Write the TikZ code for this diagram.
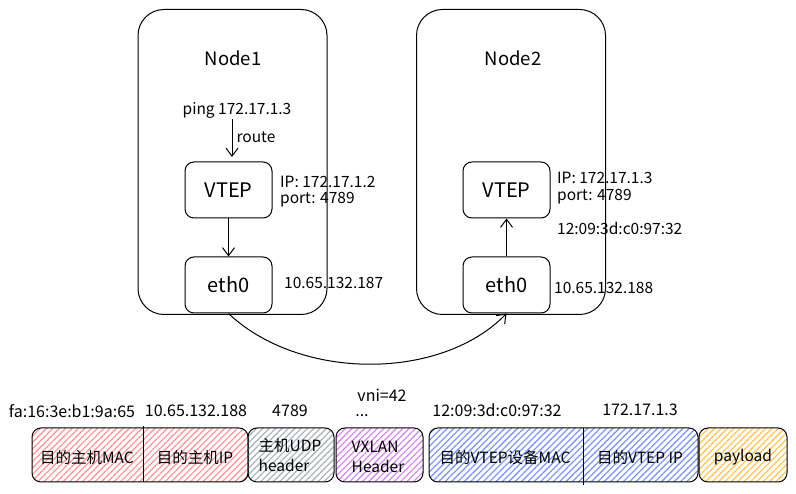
\documentclass[tikz,border=0pt]{standalone}
\usepackage{fontspec}
\setmainfont{Noto Sans CJK SC}
\usetikzlibrary{arrows.meta,patterns.meta}
\definecolor{hred}{HTML}{FF9A9A}
\definecolor{hgray}{HTML}{ADB5BD}
\definecolor{hpurple}{HTML}{D98CF0}
\definecolor{hblue}{HTML}{8098F5}
\definecolor{horange}{HTML}{FFC75A}
\tikzset{
  container/.style={draw, line width=1pt, rounded corners=26pt, minimum width=189pt, minimum height=305pt},
  dev/.style={draw, line width=1pt, rounded corners=9pt, minimum width=87pt, minimum height=56pt, font=\fontsize{20}{22}\selectfont},
  ttl/.style={font=\fontsize{18.5}{21}\selectfont},
  lbl/.style={font=\fontsize{15.5}{18}\selectfont, inner sep=1pt},
  plbl/.style={font=\fontsize{16}{18}\selectfont, inner sep=1pt},
  ptxt/.style={font=\fontsize{15.5}{20}\selectfont, inner sep=1pt, align=left},
  arr/.style={line width=1pt, -{Straight Barb[length=8pt,width=12pt]}},
  field/.style={draw, line width=1pt, rounded corners=9pt, minimum height=54pt,
    pattern={Lines[angle=45,distance=4.5pt,line width=1.3pt]}, pattern color=#1},
}
\begin{document}
\begin{tikzpicture}[x=1pt,y=-1pt]
\useasboundingbox (0,0) rectangle (796,494);
% containers
\node[container] (c1) at (232.5,162) {};
\node[container] (c2) at (511,162) {};
\node[ttl] (t1) at (233,58) {Node1};
\node[ttl] (t2) at (513,58) {Node2};
% node1 devices
\node[dev] (vtep1) at (228.5,190) {VTEP};
\node[dev] (eth1) at (228.5,285) {eth0};
\node[lbl] (ping) at (237,110) {ping 172.17.1.3};
\draw[arr] (ping.south -| 232,0) -- (232,157) node[lbl, midway, right=3pt, yshift=1pt] (route) {route};
\draw[arr] (vtep1.south) -- (eth1.north);
\node[lbl, anchor=west] (ip1) at (279,182) {IP: 172.17.1.2};
\node[lbl, anchor=west] (port1) at (279,200) {port: 4789};
\node[lbl, anchor=west] (a1) at (283,283) {10.65.132.187};
% node2 devices
\node[dev] (vtep2) at (506.5,190) {VTEP};
\node[dev] (eth2) at (506.5,285) {eth0};
\draw[arr] (eth2.north) -- (vtep2.south);
\node[lbl, anchor=west] (ip2) at (556,178) {IP: 172.17.1.3};
\node[lbl, anchor=west] (port2) at (556,197) {port: 4789};
\node[lbl, anchor=west] (mac2) at (556,228) {12:09:3d:c0:97:32};
\node[lbl, anchor=west] (a2) at (553,288) {10.65.132.188};
% link
\draw[arr] (eth1.south) .. controls (300,381) and (441,381) .. (eth2.south);
% packet fields
\node[field=hred, minimum width=216pt] (f1) at (140,455) {};
\node[field=hgray, minimum width=86pt] (f2) at (291,455) {};
\node[field=hpurple, minimum width=87pt] (f3) at (379.5,455) {};
\node[field=hblue, minimum width=269pt] (f4) at (563.5,455) {};
\node[field=horange, minimum width=88pt] (f5) at (743,455) {};
\coordinate (d1a) at (143,426);
\coordinate (d1b) at (143,482);
\draw[line width=1pt] (d1a) -- (d1b);
\coordinate (d4a) at (583,428);
\coordinate (d4b) at (583,485);
\draw[line width=1pt] (d4a) -- (d4b);
\node[ptxt] (x1) at (87,458) {目的主机MAC};
\node[ptxt] (x2) at (195,458) {目的主机IP};
\node[ptxt] (x3) at (290,455) {主机UDP\\header};
\node[ptxt] (x4) at (378,457) {VXLAN\\Header};
\node[ptxt] (x5) at (505,458) {目的VTEP设备MAC};
\node[ptxt] (x6) at (640,458) {目的VTEP IP};
\node[ptxt] (x7) at (743,457) {payload};
% labels above
\node[plbl] (l1) at (72,411) {fa:16:3e:b1:9a:65};
\node[plbl] (l2) at (196,411) {10.65.132.188};
\node[plbl] (l3) at (290,411) {4789};
\node[plbl] (l4) at (382,395) {vni=42};
\node[plbl] (l5) at (362,416) {...};
\node[plbl] (l6) at (497,410) {12:09:3d:c0:97:32};
\node[plbl] (l7) at (640,410) {172.17.1.3};
\end{tikzpicture}
\end{document}
